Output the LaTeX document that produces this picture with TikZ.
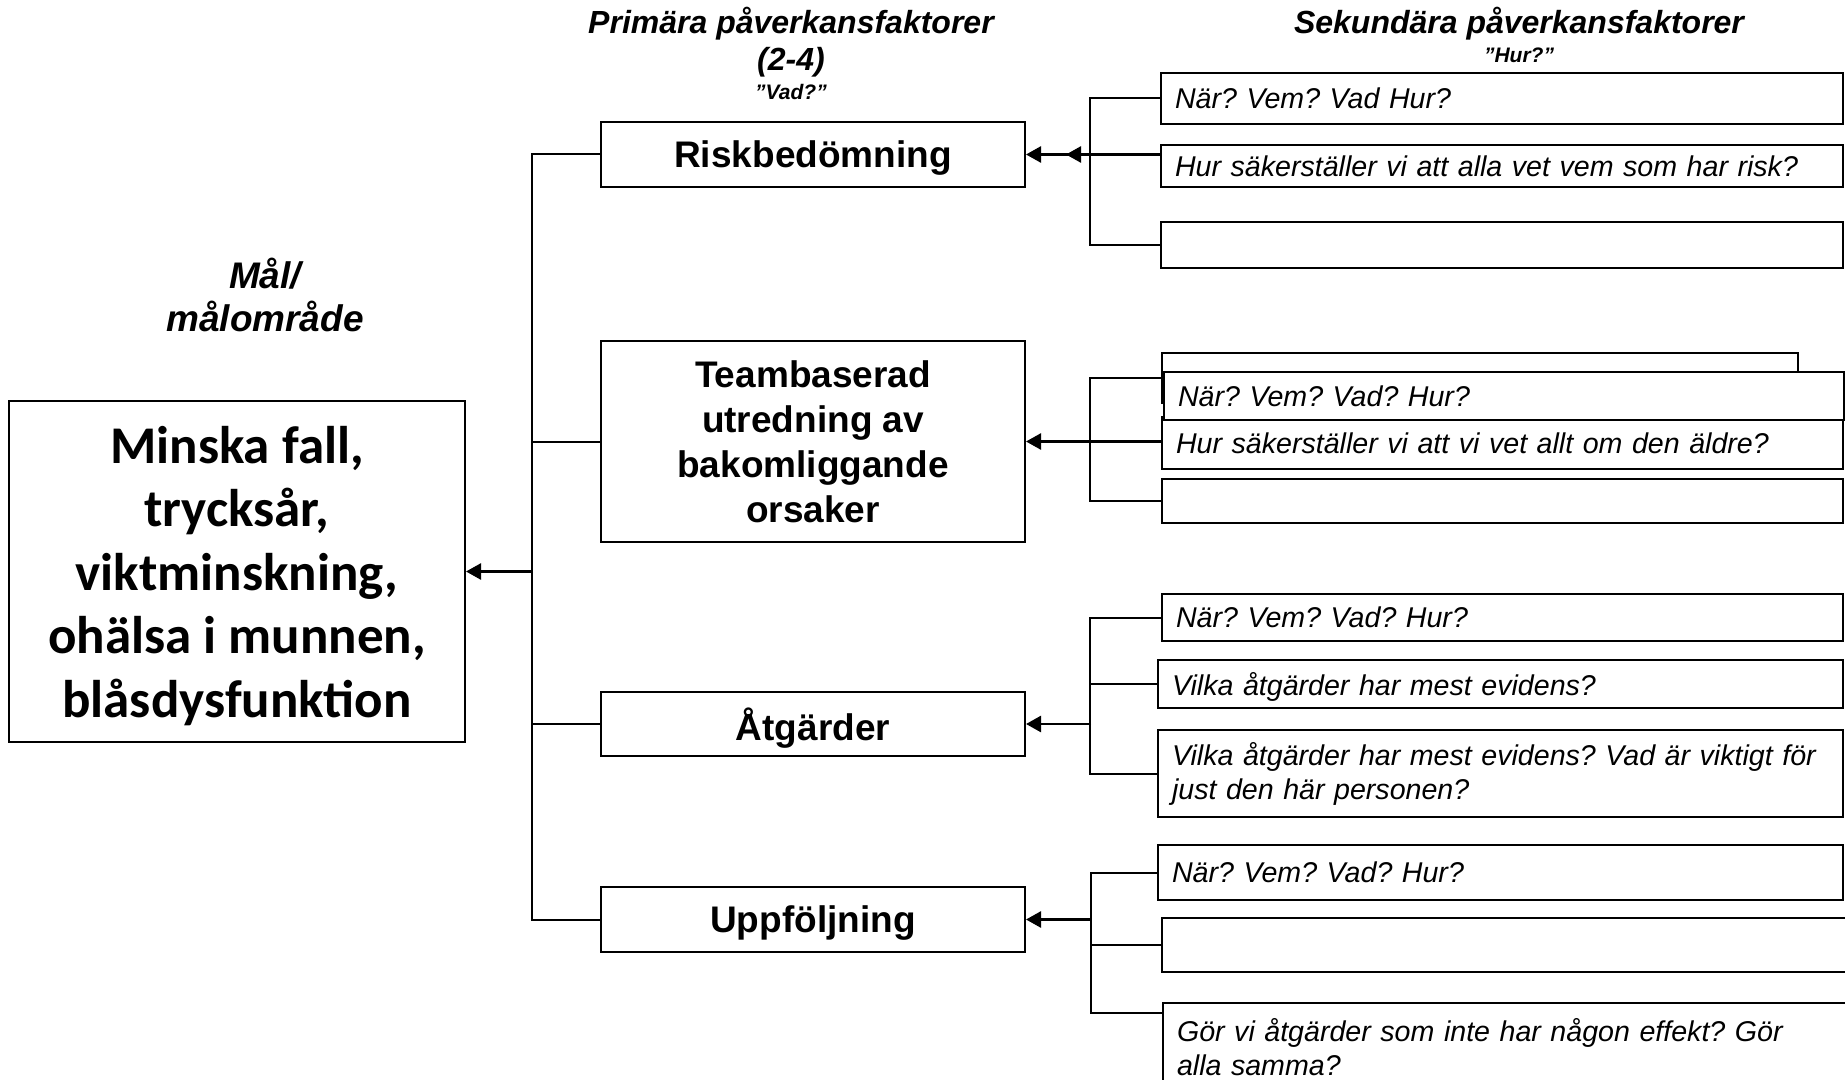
\documentclass[tikz,border=0pt]{standalone}
\usepackage{fontspec}
\setmainfont{Liberation Sans}
\newfontfamily\calibrifont{Carlito}
\usetikzlibrary{arrows.meta}
\frenchspacing
\begin{document}
\begin{tikzpicture}[x=0.5pt,y=-0.5pt,
  conn/.style={line width=1pt},
  arr/.style={line width=1.3pt,-{Triangle[length=7.5pt,width=8pt]}},
  pbox/.style={draw,line width=1pt,minimum width=212pt,align=center,inner sep=0pt,text depth=0pt,
    font=\fontsize{18.5}{22.5}\selectfont\bfseries},
  sbox/.style={draw,line width=1pt,fill=white,align=left,inner xsep=7pt,inner ysep=0pt,
    font=\frenchspacing\fontsize{14.3}{17}\selectfont\itshape},
  head/.style={font=\fontsize{16}{19}\selectfont\bfseries\itshape,inner sep=0pt},
  subhead/.style={font=\fontsize{10.5}{12}\selectfont\bfseries\itshape,inner sep=0pt}
]
\path[use as bounding box] (0,0) rectangle (1845,1080);

% headers
\node[head] (h1a) at (791,24) {Primära påverkansfaktorer};
\node[head] (h1b) at (791,62) {(2-4)};
\node[subhead] (h1c) at (791,92) {”Vad?”};
\node[head] (h2a) at (1519,24) {Sekundära påverkansfaktorer};
\node[subhead] (h2b) at (1519,55) {”Hur?”};
\node[align=center,inner sep=0pt,font=\fontsize{18.5}{21.75}\selectfont\bfseries\itshape] (goallbl) at (265,295) {Mål/\\målområde};

% goal
\node[draw,line width=1pt,minimum width=228pt,minimum height=170.5pt,align=center,inner sep=0pt,text depth=0pt,
  font=\calibrifont\fontsize{26.5}{31.75}\selectfont\bfseries] (goal) at (237,571.5)
  {Minska fall,\\trycksår,\\viktminskning,\\ohälsa i munnen,\\blåsdysfunktion};

% primary boxes
\node[pbox,minimum height=32.5pt] (p1) at (813,154.5) {Riskbedömning};
\node[pbox,minimum height=100.5pt] (p2) at (813,441.5) {Teambaserad\\utredning av\\bakomliggande\\orsaker};
\node[pbox,minimum height=32pt] (p3) at (813,724) {Åtgärder};
\node[pbox,minimum height=32.5pt] (p4) at (813,919.5) {Uppföljning};

% secondary group 1
\node[sbox,text depth=0pt,text width=327pt,minimum height=25.5pt] (s1a) at (1502,98.5) {När? Vem? Vad Hur?};
\node[sbox,text depth=0pt,text width=327pt,minimum height=21pt] (s1b) at (1502,166) {Hur säkerställer vi att alla vet vem som har risk?};
\node[sbox,text width=327pt,minimum height=23pt] (s1c) at (1502,245) {};

% secondary group 2
\node[sbox,text width=304pt,minimum height=25pt] (s2z) at (1480,378) {};
\node[sbox,text depth=0pt,text width=326.5pt,minimum height=26pt] (s2b) at (1502.5,443) {Hur säkerställer vi att vi vet allt om den äldre?};
\node[sbox,text depth=0pt,text width=326pt,minimum height=24pt] (s2a) at (1504,396) {När? Vem? Vad? Hur?};
\node[sbox,text width=326.5pt,minimum height=22pt] (s2c) at (1502.5,501) {};

% secondary group 3
\node[sbox,text depth=0pt,text width=326.5pt,minimum height=23.5pt] (s3a) at (1502.5,617.5) {När? Vem? Vad? Hur?};
\node[sbox,text depth=0pt,text width=328.5pt,minimum height=24pt] (s3b) at (1500.5,684) {Vilka åtgärder har mest evidens?};
\node[sbox,text width=328.5pt,minimum height=43.5pt] (s3c) at (1500.5,773.5) {\mbox{Vilka åtgärder har mest evidens? Vad är viktigt för}\\\mbox{just den här personen?}};

% secondary group 4
\node[sbox,text depth=0pt,text width=328.5pt,minimum height=27.5pt] (s4a) at (1500.5,872.5) {När? Vem? Vad? Hur?};
\node[sbox,text width=340pt,minimum height=27pt] (s4b) at (1516,945) {};
\node[sbox,text width=339.5pt,minimum height=44pt] (s4c) at (1516.5,1047) {\mbox{Gör vi åtgärder som inte har någon effekt? Gör}\\\mbox{alla samma?}};

% trunk to goal
\draw[conn] (p1.west) -- ++(-68,0) |- (p4.west);
\draw[conn] (p2.west) -- ++(-68,0);
\draw[conn] (p3.west) -- ++(-68,0);
\coordinate (tg) at (533,571.5);
\draw[arr] (tg) -- (goal.east);

% group 1 connectors
\draw[conn] (s1a.west) -- ++(-70,0) |- (s1c.west);
\draw[arr] (s1b.west |- p1.east) -- (p1.east);
\coordinate (t1) at (1066,154.5);
\draw[arr] (s1b.west |- p1.east) -- (t1);

% group 2 connectors
\draw[conn] (s2z.west) -- ++(-71,0) |- (s2c.west);
\draw[arr] (s2b.west |- p2.east) -- (p2.east);

% group 3 connectors
\draw[conn] (s3a.west) -- ++(-71,0) |- (s3c.west);
\draw[conn] (s3b.west) -- ++(-67,0);
\coordinate (b3) at (1091,724);
\draw[arr] (b3) -- (p3.east);

% group 4 connectors
\coordinate (b4e) at (1091,1013);
\draw[conn] (s4a.west) -| (b4e) -- (s4c.west |- b4e);
\draw[conn] (s4b.west) -- ++(-71,0);
\coordinate (b4) at (1091,919.5);
\draw[arr] (b4) -- (p4.east);
\end{tikzpicture}
\end{document}
